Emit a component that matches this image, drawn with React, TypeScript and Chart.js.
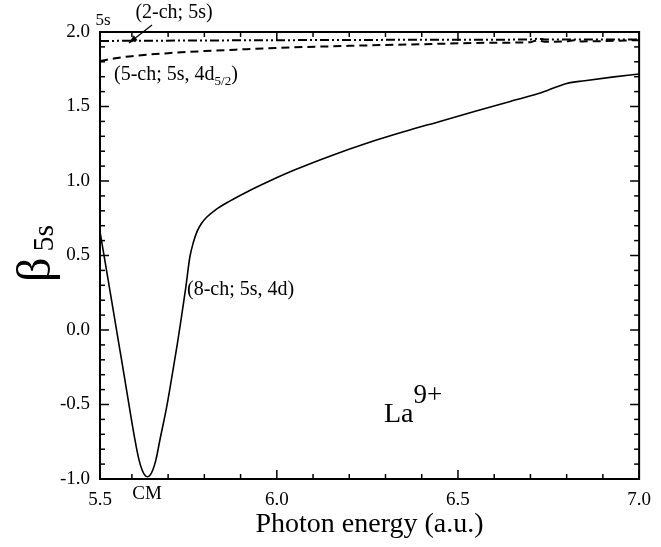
import React, { useEffect, useRef } from "react";
import { Chart, registerables } from "chart.js";

Chart.register(...registerables);

// ---- data ----
const ENERGY_8CH = [5.512, 5.54, 5.56, 5.58, 5.608, 5.62, 5.628, 5.636, 5.643, 5.65, 5.658, 5.666, 5.678, 5.695, 5.71, 5.725, 5.737, 5.749, 5.76, 5.77, 5.78, 5.792, 5.807, 5.83, 5.87, 5.92, 5.98, 6.05, 6.15, 6.25, 6.35, 6.45, 6.55, 6.65, 6.72, 6.76, 6.8, 6.85, 6.925, 7.0];
const BETA_8CH = [0.66, 0.256, -0.034, -0.324, -0.73, -0.875, -0.938, -0.975, -0.985, -0.975, -0.938, -0.875, -0.73, -0.53, -0.32, -0.1, 0.09, 0.29, 0.49, 0.59, 0.662, 0.715, 0.758, 0.805, 0.865, 0.93, 1.0, 1.075, 1.17, 1.255, 1.33, 1.4, 1.47, 1.538, 1.585, 1.62, 1.655, 1.673, 1.697, 1.718];

const ENERGY_5CH = [5.512, 5.55, 5.6, 5.7, 5.8, 5.9, 6.0, 6.2, 6.4, 6.6, 6.7, 6.72, 6.74, 6.8, 6.82, 6.84, 7.0];
const BETA_5CH = [1.805, 1.822, 1.838, 1.858, 1.872, 1.883, 1.893, 1.907, 1.918, 1.928, 1.932, 1.945, 1.935, 1.937, 1.945, 1.937, 1.945];

const ENERGY_2CH = [5.512, 6.0, 6.5, 6.7, 6.72, 6.74, 7.0];
const BETA_2CH = [1.94, 1.945, 1.948, 1.95, 1.955, 1.95, 1.95];

const X_MIN = 5.512, X_MAX = 7.0, X_MAJOR = 0.5, X_MINOR = 0.1;
const Y_MIN = -1.0, Y_MAX = 2.0, Y_MAJOR = 0.5, Y_MINOR = 0.1;

const SERIF = "'Liberation Serif', 'Times New Roman', serif";

function pts(xs: number[], ys: number[]) {
  return xs.map((x, i) => ({ x, y: ys[i] }));
}

const decorPlugin = {
  id: "decor",
  afterDraw(chart: any) {
    const { ctx, chartArea: a, scales } = chart;
    const xs = scales.x, ys = scales.y;
    ctx.save();
    ctx.strokeStyle = "#000";
    ctx.fillStyle = "#000";
    ctx.lineWidth = 2;
    ctx.strokeRect(a.left, a.top, a.right - a.left, a.bottom - a.top);
    const seg = (x1: number, y1: number, x2: number, y2: number) => {
      ctx.beginPath(); ctx.moveTo(x1, y1); ctx.lineTo(x2, y2); ctx.stroke();
    };
    ctx.lineWidth = 1.5;
    const perX = Math.round(X_MAJOR / X_MINOR);
    for (let k = Math.ceil(X_MIN / X_MINOR - 1e-6); k * X_MINOR <= X_MAX + 1e-6; k++) {
      const px = xs.getPixelForValue(k * X_MINOR);
      const len = k % perX === 0 ? 9 : 5;
      seg(px, a.bottom, px, a.bottom - len);
      seg(px, a.top, px, a.top + len);
    }
    const perY = Math.round(Y_MAJOR / Y_MINOR);
    for (let k = Math.round(Y_MIN / Y_MINOR); k * Y_MINOR <= Y_MAX + 1e-6; k++) {
      const py = ys.getPixelForValue(k * Y_MINOR);
      const len = k % perY === 0 ? 9 : 5;
      seg(a.left, py, a.left + len, py);
      seg(a.right, py, a.right - len, py);
    }

    const text = (s: string, x: number, y: number, size: number, align = "center", base = "middle") => {
      ctx.font = `${size}px ${SERIF}`;
      ctx.textAlign = align;
      ctx.textBaseline = base;
      ctx.fillText(s, x, y);
      return ctx.measureText(s).width;
    };

    // annotations
    text("5s", 103, 21, 17);
    text("(2-ch; 5s)", 174, 13, 20);
    ctx.lineWidth = 1.2;
    const ax1 = 152, ay1 = 25, ax2 = 129, ay2 = 43;
    seg(ax1, ay1, ax2, ay2);
    const ang = Math.atan2(ay2 - ay1, ax2 - ax1);
    ctx.beginPath();
    ctx.moveTo(ax2, ay2);
    ctx.lineTo(ax2 - 9 * Math.cos(ang - 0.35), ay2 - 9 * Math.sin(ang - 0.35));
    ctx.lineTo(ax2 - 9 * Math.cos(ang + 0.35), ay2 - 9 * Math.sin(ang + 0.35));
    ctx.closePath();
    ctx.fill();

    const w = text("(5-ch; 5s, 4d", 114, 80, 20, "left", "alphabetic");
    const w2 = text("5/2", 114 + w, 85, 13, "left", "alphabetic");
    text(")", 114 + w + w2, 80, 20, "left", "alphabetic");

    text("(8-ch; 5s, 4d)", 187, 290, 20, "left", "middle");
    text("CM", 147, 494, 19);

    const lw = text("La", 384, 422, 28, "left", "alphabetic");
    text("9+", 384 + lw, 403, 27, "left", "alphabetic");

    text("Photon energy (a.u.)", (a.left + a.right) / 2, 525, 28);

    // y title: beta with subscript 5s, rotated
    ctx.save();
    ctx.translate(50, 282);
    ctx.rotate(-Math.PI / 2);
    ctx.font = `48px ${SERIF}`;
    ctx.textAlign = "left";
    ctx.textBaseline = "alphabetic";
    ctx.fillText("β", 0, 0);
    const bw = ctx.measureText("β").width;
    ctx.font = `30px ${SERIF}`;
    ctx.fillText("5s", bw + 6, 3);
    ctx.restore();

    ctx.restore();
  },
};

export default function App() {
  const ref = useRef<HTMLCanvasElement | null>(null);
  useEffect(() => {
    if (!ref.current) return;
    const base = { pointRadius: 0, fill: false, borderColor: "#000", cubicInterpolationMode: "monotone" as const };
    const chart = new Chart(ref.current, {
      type: "line",
      data: {
        datasets: [
          { ...base, label: "8-ch", data: pts(ENERGY_8CH, BETA_8CH), borderWidth: 1.6 },
          { ...base, label: "5-ch", data: pts(ENERGY_5CH, BETA_5CH), borderWidth: 2, borderDash: [8, 5] },
          { ...base, label: "2-ch", data: pts(ENERGY_2CH, BETA_2CH), borderWidth: 2, borderDash: [9, 3, 2, 3, 2, 3] },
        ],
      },
      options: {
        animation: false,
        responsive: true,
        maintainAspectRatio: false,
        layout: { padding: { left: 0, right: 16, top: 32, bottom: 0 } },
        plugins: { legend: { display: false }, tooltip: { enabled: false } },
        scales: {
          x: {
            type: "linear",
            min: X_MIN,
            max: X_MAX,
            grid: { display: false, drawTicks: false },
            border: { display: false },
            ticks: {
              stepSize: X_MAJOR,
              color: "#000",
              padding: 10,
              maxRotation: 0,
              font: { family: SERIF, size: 19 },
              callback: (v: any) => Number(v).toFixed(1),
            },
            afterFit: (s: any) => { s.height = 68; },
          },
          y: {
            type: "linear",
            min: Y_MIN,
            max: Y_MAX,
            grid: { display: false, drawTicks: false },
            border: { display: false },
            ticks: {
              stepSize: Y_MAJOR,
              color: "#000",
              padding: 10,
              font: { family: SERIF, size: 19 },
              callback: (v: any) => Number(v).toFixed(1),
            },
            afterFit: (s: any) => { s.width = 100; },
          },
        },
      },
      plugins: [decorPlugin],
    });
    return () => chart.destroy();
  }, []);
  return (
    <div style={{ position: "absolute", left: 0, top: 0, width: 661, height: 547, background: "#fff" }}>
      <canvas ref={ref} />
    </div>
  );
}
